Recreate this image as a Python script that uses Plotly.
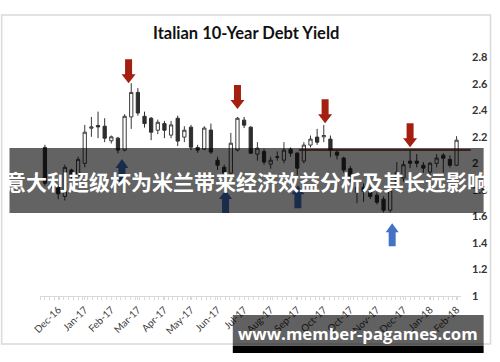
import plotly.graph_objects as go

# ---------------- data ----------------
opens  = [2.12, 1.85, 1.82, 1.75, 1.95, 1.91, 2.00, 2.265, 2.285, 2.28, 2.17, 2.19, 2.10, 2.35, 2.535, 2.355,
          2.34, 2.25, 2.30, 2.213, 2.34, 2.198, 2.273, 2.12, 2.107, 2.251, 2.024, 1.971, 1.926, 2.10, 2.326, 2.273,
          2.069, 2.09, 1.994, 2.045, 2.024, 2.107, 2.077, 2.017, 2.138, 2.198, 2.20, 2.183, 2.085, 2.04, 1.96, 1.78,
          1.82, 1.80, 1.76, 1.73, 1.647, 1.82, 1.89, 2.017, 2.017, 1.986, 1.934, 2.00, 2.062, 2.03, 1.986]
highs  = [2.14, 1.87, 1.84, 1.99, 1.96, 2.05, 2.29, 2.35, 2.39, 2.34, 2.21, 2.20, 2.37, 2.605, 2.567, 2.39,
          2.35, 2.33, 2.32, 2.32, 2.36, 2.28, 2.29, 2.14, 2.28, 2.30, 2.05, 1.99, 2.23, 2.35, 2.35, 2.28,
          2.16, 2.11, 2.05, 2.09, 2.16, 2.12, 2.085, 2.16, 2.21, 2.26, 2.29, 2.21, 2.10, 2.05, 1.98, 1.86,
          1.85, 1.82, 1.78, 1.75, 1.84, 2.01, 2.02, 2.10, 2.07, 2.01, 2.01, 2.07, 2.077, 2.06, 2.205]
lows   = [1.83, 1.81, 1.73, 1.72, 1.88, 1.90, 1.97, 2.20, 2.19, 2.16, 2.15, 2.075, 2.09, 2.26, 2.36, 2.27,
          2.175, 2.22, 2.19, 2.19, 2.13, 2.16, 2.10, 2.08, 2.10, 2.07, 1.95, 1.91, 1.91, 2.09, 2.266, 2.07,
          2.02, 1.99, 1.96, 2.02, 2.00, 2.05, 1.91, 2.00, 2.12, 2.14, 2.16, 2.047, 2.03, 1.93, 1.86, 1.70,
          1.71, 1.73, 1.69, 1.63, 1.63, 1.80, 1.86, 1.964, 1.97, 1.93, 1.90, 1.97, 1.93, 1.97, 1.98]
closes = [1.85, 1.83, 1.77, 1.97, 1.90, 2.03, 2.235, 2.275, 2.275, 2.19, 2.20, 2.10, 2.355, 2.535, 2.38, 2.30,
          2.235, 2.31, 2.25, 2.29, 2.168, 2.25, 2.122, 2.10, 2.266, 2.085, 1.986, 1.926, 2.152, 2.34, 2.288, 2.077,
          2.115, 2.01, 2.024, 2.05, 2.10, 2.077, 1.964, 2.138, 2.183, 2.16, 2.21, 2.10, 2.062, 1.95, 1.90, 1.82,
          1.79, 1.75, 1.707, 1.647, 1.80, 1.93, 1.99, 2.001, 2.001, 1.964, 2.001, 2.04, 2.039, 1.986, 2.175]
weeks = list(range(len(opens)))

tick_weeks = [2, 6, 10, 14, 18, 22, 26, 30, 34, 38, 42, 46, 50, 54, 58, 62]
tick_labels = ["Dec-16", "Jan-17", "Feb-17", "Mar-17", "Apr-17", "May-17", "Jun-17", "Jul-17",
               "Aug-17", "Sep-17", "Oct-17", "Oct-17", "Nov-17", "Dec-17", "Jan-18", "Feb-18"]
y_ticks = [1, 1.2, 1.4, 1.6, 1.8, 2, 2.2, 2.4, 2.6, 2.8]

# signal arrows (week, yield at arrow tip)
sell_weeks = [12.6, 29, 42.2, 55]
sell_tips = [2.605, 2.409, 2.303, 2.122]
buy_weeks = [11.6, 27.2, 38.1, 52.3]
buy_tips = [2.032, 1.80, 1.835, 1.549]
resistance = 2.1

title = "Italian 10-Year Debt Yield"
banner = "意大利超级杯为米兰带来经济效益分析及其长远影响"
watermark = "www.member-pagames.com"

# ---------------- layout geometry ----------------
W, H = 500, 362
ML, MR, MT, MB = 40, 32, 44, 66
PW, PH = W - ML - MR, H - MT - MB
YR = [1, 2.9]


def px(x):
    return (x - ML) / PW


def py(y):
    return (H - MB - y) / PH


fig = go.Figure()
fig.add_trace(go.Candlestick(
    x=weeks, open=opens, high=highs, low=lows, close=closes,
    increasing=dict(fillcolor="#ffffff", line=dict(color="#3a3a3a", width=1)),
    decreasing=dict(fillcolor="#2e2e2e", line=dict(color="#2e2e2e", width=1)),
    showlegend=False, hoverinfo="skip",
))

shapes = []
# outer frame
shapes.append(dict(type="rect", xref="paper", yref="paper", x0=px(1), x1=px(498), y0=py(15), y1=py(344),
                   line=dict(color="#d9d9d9", width=1.5), fillcolor="rgba(0,0,0,0)", layer="below"))
# buy arrows (under the banner)
up_path = "M0,0 L-6.5,-9 L-3.5,-9 L-3.5,-23 L3.5,-23 L3.5,-9 L6.5,-9 Z"
for wk, tip in zip(buy_weeks, buy_tips):
    shapes.append(dict(type="path", xref="x", yref="y", xsizemode="pixel", ysizemode="pixel",
                       xanchor=wk, yanchor=tip, path=up_path, fillcolor="#4472c4",
                       line=dict(width=0), layer="above"))
# resistance line
shapes.append(dict(type="line", xref="paper", yref="paper", x0=px(303), x1=px(478),
                   y0=(resistance - YR[0]) / (YR[1] - YR[0]), y1=(resistance - YR[0]) / (YR[1] - YR[0]),
                   line=dict(color="#7a1a12", width=1.5), layer="above"))
# banner band
shapes.append(dict(type="rect", xref="paper", yref="paper", x0=px(9), x1=px(491), y0=py(148), y1=py(213),
                   fillcolor="rgba(0,0,0,0.61)", line=dict(width=0), layer="above"))
# sell arrows
down_path = "M0,0 L-7,9 L-3.5,9 L-3.5,24 L3.5,24 L3.5,9 L7,9 Z"
for wk, tip in zip(sell_weeks, sell_tips):
    shapes.append(dict(type="path", xref="x", yref="y", xsizemode="pixel", ysizemode="pixel",
                       xanchor=wk, yanchor=tip, path=down_path, fillcolor="#a51f10",
                       line=dict(width=0), layer="above"))
# watermark band
shapes.append(dict(type="rect", xref="paper", yref="paper", x0=px(236), x1=px(491), y0=py(315), y1=py(346),
                   fillcolor="rgba(0,0,0,0.62)", line=dict(width=0), layer="above"))
shapes.append(dict(type="rect", xref="paper", yref="paper", x0=px(236), x1=px(491), y0=py(346), y1=py(353),
                   fillcolor="#000000", line=dict(width=0), layer="above"))

annotations = [
    dict(text="<b>" + title + "</b>", xref="paper", yref="paper", x=px(249), y=py(33),
         showarrow=False, xanchor="center", yanchor="middle",
         font=dict(family="Lato", size=16.5, color="#111111")),
    dict(text="<b>" + banner + "</b>", xref="paper", yref="paper", x=px(250), y=py(181),
         showarrow=False, xanchor="center", yanchor="middle",
         font=dict(family="Noto Sans CJK SC", size=21, color="#ffffff")),
    dict(text="<b>" + watermark + "</b>", xref="paper", yref="paper", x=px(363), y=py(333),
         showarrow=False, xanchor="center", yanchor="middle",
         font=dict(family="Open Sans", size=16.8, color="#ffffff")),
]

fig.update_layout(
    width=W, height=H,
    margin=dict(l=ML, r=MR, t=MT, b=MB),
    paper_bgcolor="#ffffff", plot_bgcolor="#ffffff",
    shapes=shapes, annotations=annotations,
    xaxis=dict(range=[-0.741, 62.667], rangeslider=dict(visible=False), showgrid=False, zeroline=False,
               showline=True, linecolor="#d9d9d9", linewidth=1,
               tickmode="array", tickvals=tick_weeks, ticktext=tick_labels, tickangle=-45,
               ticks="outside", ticklen=3, tickcolor="#d9d9d9",
               minor=dict(ticks="outside", ticklen=3, tickcolor="#d9d9d9", tickmode="linear",
                          tick0=0, dtick=5 / 7),
               tickfont=dict(family="Lato", size=10, color="#404040")),
    yaxis=dict(range=YR, side="right", showgrid=False, zeroline=False, showline=False,
               tickmode="array", tickvals=y_ticks, ticktext=[f"{v:g}" for v in y_ticks],
               ticks="", ticklabelstandoff=10,
               tickfont=dict(family="Lato", size=11, color="#333333", weight="bold")),
)

fig.write_html("out.html")
